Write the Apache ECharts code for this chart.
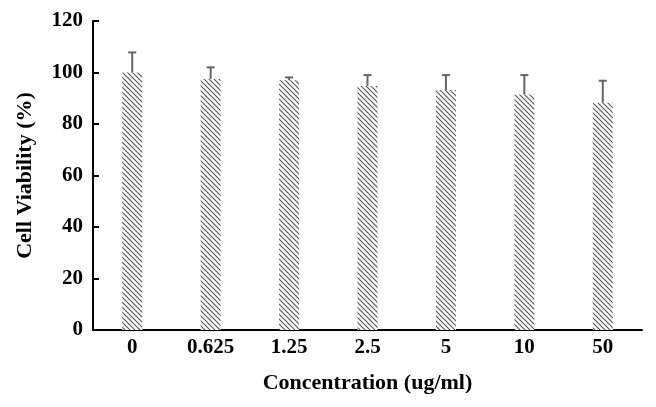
<!DOCTYPE html>
<html><head><meta charset="utf-8">
<script src="https://cdn.jsdelivr.net/npm/echarts@6/dist/echarts.min.js"></script>
<style>html,body{margin:0;padding:0;background:#fff}#c{width:656px;height:407px}</style>
</head><body><div id="c"></div>
<script>
const categories = ['0', '0.625', '1.25', '2.5', '5', '10', '50'];
const viability = [100, 97.5, 97, 94.8, 93.2, 91.5, 88.3];
const errorTop = [107.8, 102, 98.1, 99, 99, 99, 96.8];
const yTicks = [0, 20, 40, 60, 80, 100, 120];

function hatch() {
  const c = document.createElement('canvas');
  c.width = 5; c.height = 5;
  const g = c.getContext('2d');
  g.fillStyle = '#fff'; g.fillRect(0, 0, 5, 5);
  g.strokeStyle = '#555'; g.lineWidth = 1.1;
  g.beginPath();
  g.moveTo(-1, -1); g.lineTo(6, 6);
  g.moveTo(-1, 4); g.lineTo(1, 6);
  g.moveTo(4, -1); g.lineTo(6, 1);
  g.stroke();
  return c;
}

const font = 'Liberation Serif';
const chart = echarts.init(document.getElementById('c'));
chart.setOption({
  animation: false,
  backgroundColor: '#fff',
  grid: { left: 93, right: 14, top: 21, bottom: 77 },
  xAxis: {
    type: 'category', data: categories,
    name: 'Concentration (ug/ml)', nameLocation: 'middle', nameGap: 42,
    nameTextStyle: { fontFamily: font, fontWeight: 'bold', fontSize: 22, color: '#000' },
    axisLine: { lineStyle: { color: '#000', width: 2 } },
    axisTick: { show: false },
    axisLabel: { fontFamily: font, fontWeight: 'bold', fontSize: 21, color: '#000', margin: 7 }
  },
  yAxis: {
    type: 'value', min: 0, max: 120, interval: 20,
    name: 'Cell Viability (%)', nameLocation: 'middle', nameGap: 57,
    nameTextStyle: { fontFamily: font, fontWeight: 'bold', fontSize: 22, color: '#000' },
    axisLine: { show: true, lineStyle: { color: '#000', width: 2 } },
    axisTick: { show: true, inside: true, length: 6, lineStyle: { color: '#000', width: 2 } },
    axisLabel: { fontFamily: font, fontWeight: 'bold', fontSize: 21, color: '#000', margin: 10,
      formatter: v => yTicks.includes(v) ? String(v) : '' },
    splitLine: { show: false }
  },
  series: [
    {
      type: 'bar', data: viability, barWidth: 20,
      itemStyle: { color: { image: hatch(), repetition: 'repeat' } }
    },
    {
      type: 'custom',
      data: categories.map((c, i) => [i, viability[i], errorTop[i]]),
      renderItem: function (params, api) {
        const lo = api.coord([api.value(0), api.value(1)]);
        const hi = api.coord([api.value(0), api.value(2)]);
        const st = { stroke: '#666', lineWidth: 2 };
        return { type: 'group', children: [
          { type: 'line', shape: { x1: lo[0], y1: lo[1], x2: hi[0], y2: hi[1] }, style: st },
          { type: 'line', shape: { x1: hi[0] - 4, y1: hi[1], x2: hi[0] + 4, y2: hi[1] }, style: st }
        ]};
      },
      z: 3
    }
  ]
});
</script></body></html>
